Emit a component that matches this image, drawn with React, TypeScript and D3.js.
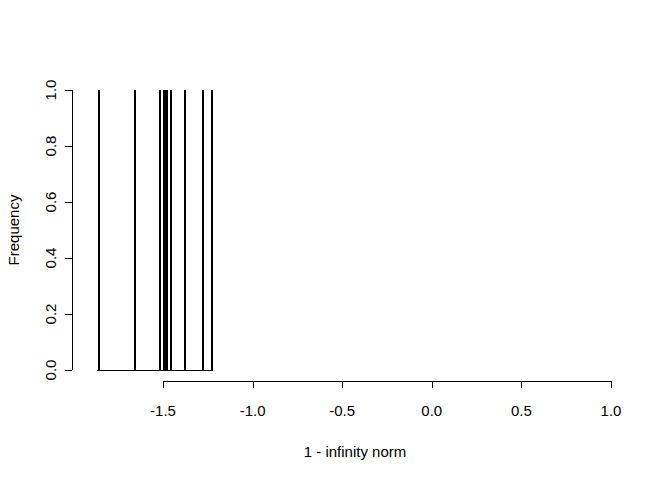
import React from "react";
import * as d3 from "d3";

const values: number[] = [-1.855, -1.655, -1.515, -1.495, -1.485, -1.475, -1.455, -1.375, -1.275, -1.225];
const breaks: number[] = d3.range(-186, -121, 1).map((v) => v / 100);
const xTicks: number[] = [-1.5, -1.0, -0.5, 0.0, 0.5, 1.0];
const yTicks: number[] = [0, 0.2, 0.4, 0.6, 0.8, 1.0];
const xLabel = "1 - infinity norm";
const yLabel = "Frequency";

export default function App() {
  const W = 672, H = 480;
  const x = d3.scaleLinear().domain([-1.5, 1.0]).range([163, 611]);
  const y = d3.scaleLinear().domain([0, 1]).range([370, 90]);
  const bins = d3
    .bin<number, number>()
    .domain([breaks[0], breaks[breaks.length - 1]])
    .thresholds(breaks.slice(1, -1))(values);
  const font = "'Liberation Sans', Arial, sans-serif";
  const fs = 15;
  return (
    <svg width={W} height={H} style={{ position: "absolute", left: 0, top: 0 }} fontFamily={font}>
      <rect width={W} height={H} fill="#fff" />
      <line
        x1={Math.round(x(bins[0].x0 as number)) - 1}
        x2={Math.round(x(bins[bins.length - 1].x1 as number))}
        y1={y(0) + 0.5}
        y2={y(0) + 0.5}
        stroke="#000"
      />
      {bins
        .filter((b) => b.length > 0)
        .map((b, i) => {
          const cx = Math.round(x(((b.x0 as number) + (b.x1 as number)) / 2));
          return (
            <rect
              key={i}
              x={cx - 1}
              y={Math.round(y(b.length))}
              width={2}
              height={y(0) - Math.round(y(b.length)) + 1}
              fill="#000"
              shapeRendering="crispEdges"
            />
          );
        })}
      {/* x axis */}
      <line x1={x(-1.5)} x2={x(1.0)} y1={381.5} y2={381.5} stroke="#000" />
      {xTicks.map((t) => (
        <g key={t}>
          <line x1={Math.round(x(t)) + 0.5} x2={Math.round(x(t)) + 0.5} y1={381} y2={388} stroke="#000" />
          <text x={x(t)} y={416} textAnchor="middle" fontSize={fs}>
            {t.toFixed(1)}
          </text>
        </g>
      ))}
      <text x={355} y={457} textAnchor="middle" fontSize={fs}>
        {xLabel}
      </text>
      {/* y axis */}
      <line x1={72.5} x2={72.5} y1={y(0)} y2={y(1)} stroke="#000" />
      {yTicks.map((t) => (
        <g key={t}>
          <line x1={65} x2={72} y1={Math.round(y(t)) + 0.5} y2={Math.round(y(t)) + 0.5} stroke="#000" />
          <text
            transform={`translate(56,${y(t)}) rotate(-90)`}
            textAnchor="middle"
            fontSize={fs}
          >
            {t.toFixed(1)}
          </text>
        </g>
      ))}
      <text transform={`translate(19,230) rotate(-90)`} textAnchor="middle" fontSize={fs}>
        {yLabel}
      </text>
    </svg>
  );
}
